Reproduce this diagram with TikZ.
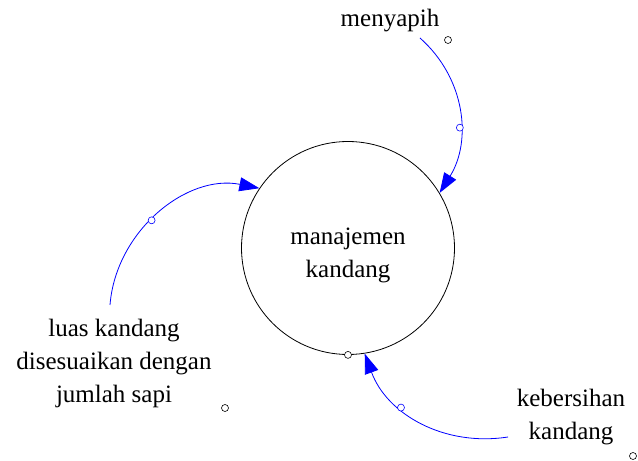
\documentclass[tikz,border=0pt]{standalone}
\usepackage{fontspec}
\setmainfont{Liberation Serif}
\usetikzlibrary{arrows.meta}
\definecolor{linkblue}{RGB}{0,0,255}
\begin{document}
\begin{tikzpicture}[x=1pt,y=1pt,
  every node/.style={font=\fontsize{25}{33}\selectfont, inner sep=0pt},
  stock/.style={circle, draw=black, line width=0.8pt, minimum size=213pt},
  label/.style={align=center},
  handle/.style={circle, draw=black, fill=white, line width=0.6pt, minimum size=7pt},
  linkhandle/.style={handle, draw=linkblue},
  link/.style={draw=linkblue, line width=0.8pt,
    -{Triangle[length=20pt,width=14pt]}, linkblue}
]
\useasboundingbox (0,0) rectangle (638,461);

% central variable
\node[stock] (mk) at (348,213) {};
\node[label, anchor=center] (mktext) at (348,206) {manajemen\\kandang};

% influencing variables
\node[anchor=base] (menyapih) at (390,434) {menyapih};
\node[label, anchor=north] (luas) at (114,447-305) {luas kandang\\disesuaikan dengan\\jumlah sapi};
\node[label, anchor=north] (bersih) at (571,461-389) {kebersihan\\kandang};

% start points of the links
\coordinate (s1) at (420,423);
\coordinate (s2) at (110,156);
\coordinate (s3) at (508,24);

% links
\draw[link] (s1) to[out=-41.6,in=58.1] node[linkhandle,pos=0.6] (h1) {} (mk.31.7);
\draw[link] (s2) to[out=85.5,in=168.7] node[linkhandle,pos=0.45] (h2) {} (mk.146);
\draw[link] (s3) to[out=188.8,in=-69.9] node[linkhandle,pos=0.64] (h3) {} (mk.-81.3);

% loose handles
\node[handle] (hm) at (448,421) {};
\node[handle] (hl) at (225,53) {};
\node[handle] (hb) at (633,5) {};
\node[handle] (hs) at (mk.south) {};
\end{tikzpicture}
\end{document}
